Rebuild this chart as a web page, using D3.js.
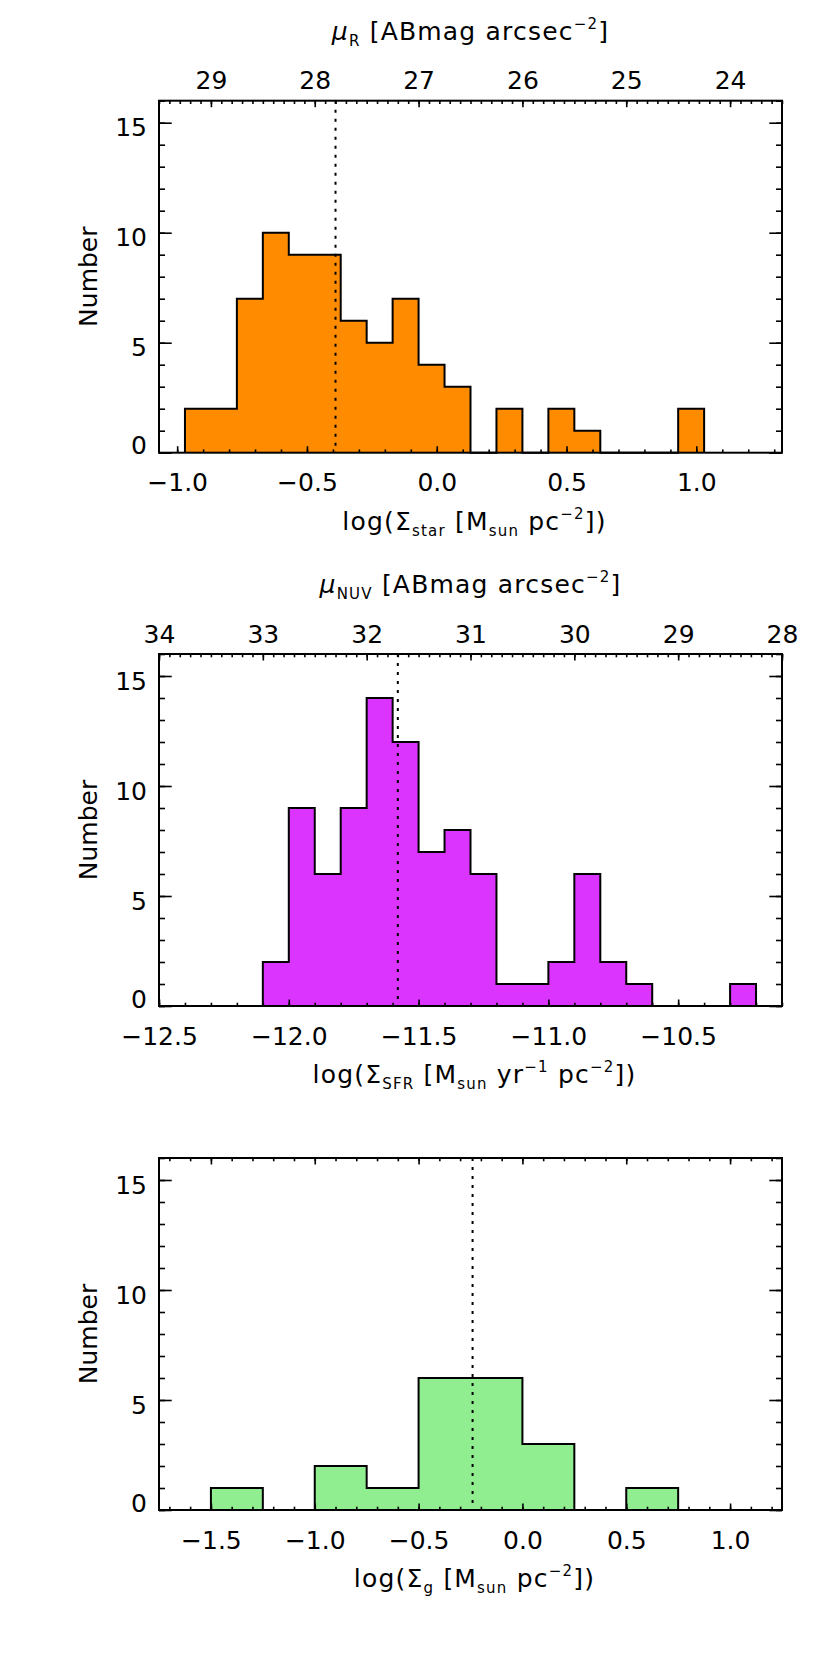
<!DOCTYPE html>
<html>
<head>
<meta charset="utf-8">
<script src="https://cdn.jsdelivr.net/npm/d3@7"></script>
<style>
  body { margin: 0; background: #fff; }
  svg text { font-family: "DejaVu Sans", sans-serif; fill: #000; }
</style>
</head>
<body>
<svg id="chart" width="830" height="1661"></svg>
<script>
// ---- data ----
// panel 1: stellar mass surface density, bins of 0.1 dex
const starEdges = [-0.97, -0.87, -0.77, -0.67, -0.57, -0.47, -0.37, -0.27, -0.17, -0.07, 0.03,
  0.13, 0.23, 0.33, 0.43, 0.53, 0.63, 0.73, 0.83, 0.93, 1.03];
const starCounts = [2, 2, 7, 10, 9, 9, 6, 5, 7, 4, 3, 0, 2, 0, 2, 1, 0, 0, 0, 2];
const starMedian = -0.39;
const starTicks = [-1.0, -0.5, 0.0, 0.5, 1.0];
const muRTicks = [29, 28, 27, 26, 25, 24];

// panel 2: SFR surface density, bins of 0.1 dex
const sfrEdges = [-12.1, -12.0, -11.9, -11.8, -11.7, -11.6, -11.5, -11.4, -11.3, -11.2, -11.1,
  -11.0, -10.9, -10.8, -10.7, -10.6, -10.5, -10.4, -10.3, -10.2];
const sfrCounts = [2, 9, 6, 9, 14, 12, 7, 8, 6, 1, 1, 2, 6, 2, 1, 0, 0, 0, 1];
const sfrMedian = -11.58;
const sfrTicks = [-12.5, -12.0, -11.5, -11.0, -10.5];
const muNUVTicks = [34, 33, 32, 31, 30, 29, 28];

// panel 3: gas surface density, bins of 0.25 dex
const gasEdges = [-1.5, -1.25, -1.0, -0.75, -0.5, -0.25, 0.0, 0.25, 0.5, 0.75];
const gasCounts = [1, 0, 2, 1, 6, 6, 3, 0, 1];
const gasMedian = -0.24;
const gasTicks = [-1.5, -1.0, -0.5, 0.0, 0.5, 1.0];

const countTicks = [0, 5, 10, 15];

// ---- layout ----
const svg = d3.select("#chart");
svg.append("rect").attr("width", 830).attr("height", 1661).attr("fill", "#fff");

const plotLeft = 159, plotRight = 782, plotH = 352;
const fontSize = 25;

// small helper: ticks at a fixed step inside a domain
function stepTicks(domain, step) {
  const lo = Math.min(...domain), hi = Math.max(...domain);
  const i0 = Math.ceil(lo / step - 1e-6), i1 = Math.floor(hi / step + 1e-6);
  return d3.range(i0, i1 + 1).map(i => +(i * step).toFixed(6));
}

// write a label made of normal / sub / sup / italic pieces
function richText(sel, parts) {
  let cur = 0;
  parts.forEach(([txt, kind]) => {
    let target = 0, size = null, style = null;
    if (kind === "sub") { target = 6; size = 15; }
    if (kind === "sup") { target = -11; size = 15; }
    if (kind === "it") { style = "italic"; }
    const t = sel.append("tspan").text(txt).attr("dy", target - cur);
    if (size) t.attr("font-size", size);
    if (style) t.attr("font-style", style);
    cur = target;
  });
}

function drawPanel(cfg) {
  const g = svg.append("g");
  const top = cfg.top, bottom = cfg.top + plotH;

  const x = d3.scaleLinear().domain(cfg.xDomain).range([plotLeft, plotRight]);
  const y = d3.scaleLinear().domain([0, 16]).range([bottom, top]);

  // histogram bins
  const bins = cfg.counts.map((c, i) => ({ x0: cfg.edges[i], x1: cfg.edges[i + 1], n: c }));

  // filled step shape
  let d = `M${x(bins[0].x0)},${y(0)}`;
  bins.forEach(b => { d += `V${y(b.n)}H${x(b.x1)}`; });
  d += `V${y(0)}`;
  g.append("path").attr("d", d + "Z").attr("fill", cfg.color).attr("stroke", "none");
  g.append("path").attr("d", d).attr("fill", "none")
    .attr("stroke", "#000").attr("stroke-width", 2).attr("stroke-linejoin", "miter");

  // median line
  g.append("line")
    .attr("x1", x(cfg.median)).attr("x2", x(cfg.median))
    .attr("y1", top).attr("y2", bottom)
    .attr("stroke", "#000").attr("stroke-width", 2)
    .attr("stroke-dasharray", "3,6");

  // axes: major + minor ticks, pointing inward
  const tickStyle = sel => {
    sel.select(".domain").remove();
    sel.selectAll(".tick line").attr("stroke", "#000").attr("stroke-width", 1.6);
    sel.selectAll(".tick text").attr("font-size", fontSize).attr("fill", "#000")
      .attr("font-family", "DejaVu Sans, sans-serif");
  };

  // bottom
  g.append("g").attr("transform", `translate(0,${bottom})`)
    .call(d3.axisBottom(x).tickValues(stepTicks(cfg.xDomain, 0.1)).tickSize(-3.3).tickFormat(""))
    .call(tickStyle);
  g.append("g").attr("transform", `translate(0,${bottom})`)
    .call(d3.axisBottom(x).tickValues(cfg.xTicks).tickSize(-6.5).tickPadding(21)
      .tickFormat(d3.format(".1f")))
    .call(tickStyle);

  // top
  if (cfg.topDomain) {
    const xt = d3.scaleLinear().domain(cfg.topDomain).range([plotLeft, plotRight]);
    g.append("g").attr("transform", `translate(0,${top})`)
      .call(d3.axisTop(xt).tickValues(stepTicks(cfg.topDomain, 0.1)).tickSize(-3.3).tickFormat(""))
      .call(tickStyle);
    g.append("g").attr("transform", `translate(0,${top})`)
      .call(d3.axisTop(xt).tickValues(cfg.topTicks).tickSize(-6.5).tickPadding(11.5)
        .tickFormat(d3.format("d")))
      .call(tickStyle);
    const tt = g.append("text").attr("x", (plotLeft + plotRight) / 2).attr("y", top - 61)
      .attr("text-anchor", "middle").attr("font-size", fontSize).attr("letter-spacing", 1.2);
    richText(tt, cfg.topTitle);
  } else {
    g.append("g").attr("transform", `translate(0,${top})`)
      .call(d3.axisTop(x).tickValues(stepTicks(cfg.xDomain, 0.1)).tickSize(-3.3).tickFormat(""))
      .call(tickStyle);
    g.append("g").attr("transform", `translate(0,${top})`)
      .call(d3.axisTop(x).tickValues(cfg.xTicks).tickSize(-6.5).tickFormat(""))
      .call(tickStyle);
  }

  // left / right
  const yMinor = stepTicks([0, 16], 1);
  g.append("g").attr("transform", `translate(${plotLeft},0)`)
    .call(d3.axisLeft(y).tickValues(yMinor).tickSize(-6).tickFormat(""))
    .call(tickStyle);
  const yl = g.append("g").attr("transform", `translate(${plotLeft},0)`)
    .call(d3.axisLeft(y).tickValues(countTicks).tickSize(-12.7).tickPadding(12))
    .call(tickStyle);
  yl.selectAll(".tick text").attr("dy", d => d === 0 ? "0.05em" : "0.52em");
  g.append("g").attr("transform", `translate(${plotRight},0)`)
    .call(d3.axisRight(y).tickValues(yMinor).tickSize(-6).tickFormat(""))
    .call(tickStyle);
  g.append("g").attr("transform", `translate(${plotRight},0)`)
    .call(d3.axisRight(y).tickValues(countTicks).tickSize(-12.7).tickFormat(""))
    .call(tickStyle);

  // frame
  g.append("rect").attr("x", plotLeft).attr("y", top)
    .attr("width", plotRight - plotLeft).attr("height", plotH)
    .attr("fill", "none").attr("stroke", "#000").attr("stroke-width", 2);

  // titles
  const bt = g.append("text").attr("x", (plotLeft + plotRight) / 2 + 4).attr("y", bottom + 77)
    .attr("text-anchor", "middle").attr("font-size", fontSize).attr("letter-spacing", 1.2);
  richText(bt, cfg.xTitle);

  g.append("text")
    .attr("transform", `translate(97,${(top + bottom) / 2}) rotate(-90)`)
    .attr("text-anchor", "middle").attr("font-size", fontSize)
    .text("Number");
}

drawPanel({
  top: 100.7, xDomain: [-1.07, 1.33], edges: starEdges, counts: starCounts,
  median: starMedian, xTicks: starTicks, color: "#FF8C00",
  topDomain: [29.5, 23.5], topTicks: muRTicks,
  topTitle: [["μ", "it"], ["R", "sub"], [" [ABmag arcsec", "n"], ["−2", "sup"], ["]", "n"]],
  xTitle: [["log(Σ", "n"], ["star", "sub"], [" [M", "n"], ["sun", "sub"], [" pc", "n"], ["−2", "sup"], ["])", "n"]]
});

drawPanel({
  top: 654, xDomain: [-12.5, -10.1], edges: sfrEdges, counts: sfrCounts,
  median: sfrMedian, xTicks: sfrTicks, color: "#DC34FF",
  topDomain: [34, 28], topTicks: muNUVTicks,
  topTitle: [["μ", "it"], ["NUV", "sub"], [" [ABmag arcsec", "n"], ["−2", "sup"], ["]", "n"]],
  xTitle: [["log(Σ", "n"], ["SFR", "sub"], [" [M", "n"], ["sun", "sub"], [" yr", "n"], ["−1", "sup"],
    [" pc", "n"], ["−2", "sup"], ["])", "n"]]
});

drawPanel({
  top: 1158, xDomain: [-1.75, 1.25], edges: gasEdges, counts: gasCounts,
  median: gasMedian, xTicks: gasTicks, color: "#90EE90",
  topDomain: null,
  xTitle: [["log(Σ", "n"], ["g", "sub"], [" [M", "n"], ["sun", "sub"], [" pc", "n"], ["−2", "sup"], ["])", "n"]]
});
</script>
</body>
</html>
